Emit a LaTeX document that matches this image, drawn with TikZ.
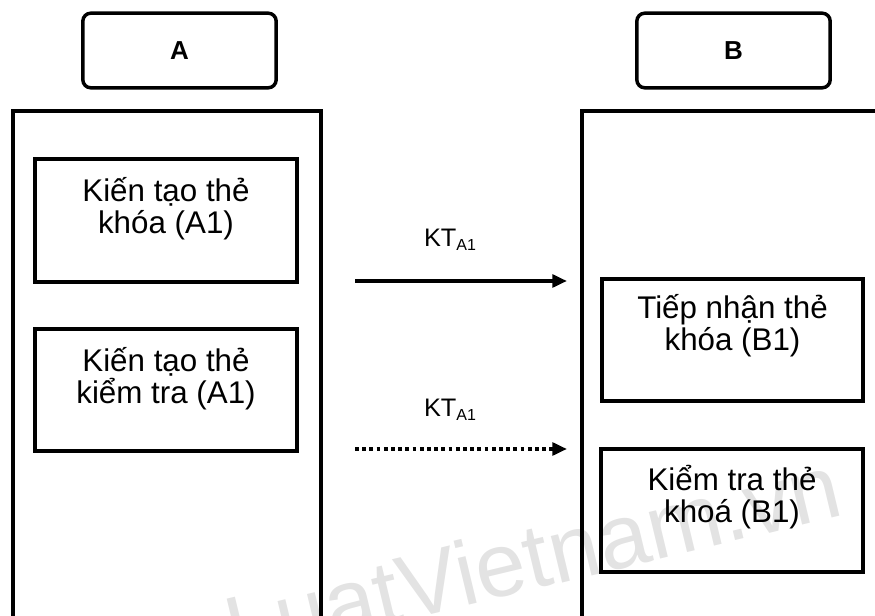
\documentclass[tikz,border=0pt]{standalone}
\usepackage{fontspec}
\setmainfont{Liberation Sans}
\usetikzlibrary{arrows.meta, positioning, calc}
\newcommand{\keysub}[1]{\raisebox{-2.5pt}{\fontsize{12}{13}\selectfont #1}}
\tikzstyle{header} = [rectangle, rounded corners=6pt, minimum width=145pt, minimum height=56pt, draw=black, line width=2.6pt, font=\fontsize{19.5}{22}\selectfont\bfseries]
\tikzstyle{card} = [rectangle, minimum width=196pt, minimum height=92pt, draw=black, line width=2.8pt]
\tikzstyle{cardtext} = [align=center, anchor=base, inner sep=0pt, font=\fontsize{23.5}{24}\selectfont]
\tikzstyle{frame} = [line width=2.8pt]
\tikzstyle{keylabel} = [anchor=base, inner sep=0pt, font=\fontsize{19}{22}\selectfont]
\tikzstyle{arrow} = [line width=2.8pt, -{Triangle[length=11pt, width=9.5pt]}]
\tikzstyle{dotarrow} = [arrow, dash pattern=on 2.8pt off 2.6pt]
\tikzstyle{watermark} = [anchor=base, rotate=13.5, text=black!11, font=\fontsize{68}{68}\selectfont]

\begin{document}
\begin{tikzpicture}[x=0.75pt, y=-0.75pt]
\useasboundingbox (0,0) rectangle (875,616);
\node (mark) [watermark] at (540,588) {LuatVietnam.vn};

% side A
\node (hdrA) [header] at (179.5,50.5) {A};
\draw [frame] (13,616) -- (13,111) -- (321,111) -- (321,616);
\node (boxA1) [card] at (166,220.5) {};
\node (txtA1) [cardtext] at ($(boxA1.north)+(0,76)$) {Kiến tạo thẻ\\khóa (A1)};
\node (boxA2) [card] at (166,390) {};
\node (txtA2) [cardtext] at ($(boxA2.north)+(0,77)$) {Kiến tạo thẻ\\kiểm tra (A1)};

% side B
\node (hdrB) [header] at (733.5,50.5) {B};
\draw [frame] (582,616) -- (582,111) -- (875,111);
\node (boxB1) [card] at (732.5,340) {};
\node (txtB1) [cardtext] at ($(boxB1.north)+(0,74)$) {Tiếp nhận thẻ\\khóa (B1)};
\node (boxB2) [card] at (732,510.5) {};
\node (txtB2) [cardtext] at ($(boxB2.north)+(0,75)$) {Kiểm tra thẻ\\khoá (B1)};

% messages
\coordinate (sendkey) at (355,281);
\coordinate (getkey) at (567,281);
\coordinate (sendtest) at (355,449);
\coordinate (gettest) at (567,449);
\node (lblkey) [keylabel] at (450,247) {KT\keysub{A1}};
\node (lbltest) [keylabel] at (450,417) {KT\keysub{A1}};
\draw [arrow] (sendkey) -- (getkey);
\draw [dotarrow] (sendtest) -- (gettest);
\end{tikzpicture}
\end{document}
